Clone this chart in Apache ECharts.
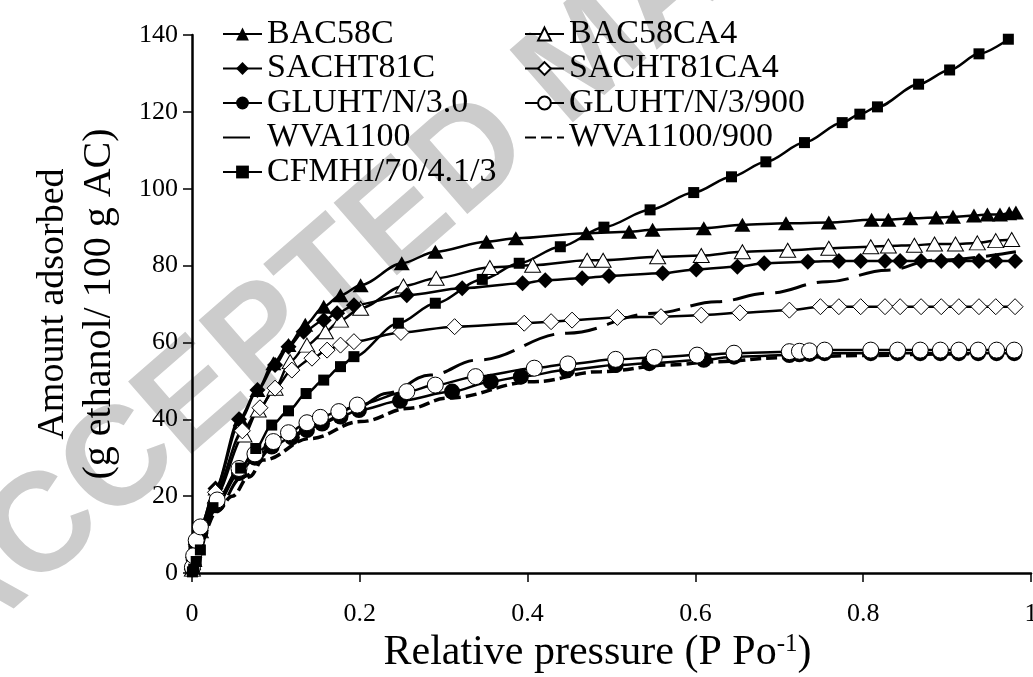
<!DOCTYPE html>
<html>
<head>
<meta charset="utf-8">
<script src="https://cdn.jsdelivr.net/npm/echarts@6/dist/echarts.min.js"></script>
<style>
  html, body { margin: 0; padding: 0; background: #fff; overflow: hidden; }
  #chart { width: 1033px; height: 677px; }
</style>
</head>
<body>
<div id="chart"></div>
<script>
// ethanol isotherms, [relative pressure, amount adsorbed]
var bac58c = [[0.0005,1],[0.002,4],[0.005,8],[0.01,12],[0.028,22],[0.058,40],[0.078,47.6],[0.097,54.6],[0.115,59.3],[0.135,64.6],[0.157,69.3],[0.177,72.3],[0.201,74.9],[0.25,80.6],[0.29,83.6],[0.351,86.2],[0.386,87.1],[0.47,88.4],[0.521,88.8],[0.549,89.3],[0.61,89.7],[0.656,90.6],[0.708,91.0],[0.759,91.2],[0.81,91.9],[0.83,91.9],[0.856,92.3],[0.887,92.5],[0.907,92.7],[0.932,93.0],[0.948,93.3],[0.963,93.3],[0.974,93.6],[0.982,93.8]];
var bac58ca4 = [[0.0005,1],[0.002,3.5],[0.005,7],[0.01,11],[0.028,20],[0.062,35.9],[0.079,42.4],[0.099,48.1],[0.117,55.0],[0.137,59.3],[0.159,62.8],[0.177,65.8],[0.201,68.9],[0.252,74.7],[0.291,76.7],[0.355,79.5],[0.406,80.1],[0.471,81.4],[0.49,81.4],[0.555,82.3],[0.607,82.6],[0.656,83.6],[0.71,84.0],[0.759,84.5],[0.809,84.9],[0.83,85.1],[0.861,85.3],[0.885,85.6],[0.91,85.6],[0.936,85.9],[0.958,86.5],[0.977,86.8]];
var sacht81c = [[0.0005,1],[0.002,4],[0.005,8],[0.01,12],[0.028,22],[0.056,40],[0.078,47.6],[0.099,54.1],[0.115,58.9],[0.133,62.8],[0.157,65.8],[0.173,67.6],[0.193,69.7],[0.256,72.3],[0.322,74.1],[0.394,75.4],[0.421,76.2],[0.465,76.7],[0.497,77.3],[0.561,78.0],[0.601,79.0],[0.65,79.7],[0.682,80.6],[0.734,81.0],[0.771,81.2],[0.797,81.2],[0.826,81.2],[0.844,81.2],[0.869,81.2],[0.893,81.2],[0.914,81.2],[0.938,81.2],[0.958,81.2],[0.981,81.2]];
var sacht81ca4 = [[0.0005,1],[0.002,4],[0.005,7.5],[0.01,11],[0.028,21],[0.06,37],[0.081,43],[0.099,48.1],[0.119,52.8],[0.143,55.9],[0.161,58.0],[0.177,59.3],[0.193,60.2],[0.249,62.6],[0.313,64.1],[0.396,65.0],[0.428,65.4],[0.453,65.8],[0.507,66.5],[0.559,66.7],[0.607,67.1],[0.653,67.7],[0.712,68.4],[0.749,69.3],[0.771,69.3],[0.797,69.3],[0.826,69.3],[0.844,69.3],[0.869,69.3],[0.893,69.3],[0.914,69.3],[0.938,69.3],[0.958,69.3],[0.981,69.3]];
var gluht = [[0.0005,1],[0.002,3.5],[0.005,7],[0.01,10.5],[0.03,18],[0.056,26],[0.075,30],[0.095,32.9],[0.119,35.3],[0.137,37.2],[0.155,38.9],[0.177,40.7],[0.199,42.4],[0.248,44.8],[0.31,47.2],[0.356,49.8],[0.392,51.1],[0.447,52.8],[0.505,54.1],[0.545,54.6],[0.61,55.5],[0.646,56.3],[0.712,56.7],[0.724,56.9],[0.736,57.0],[0.754,57.2],[0.809,57.2],[0.841,57.2],[0.868,57.2],[0.892,57.2],[0.914,57.2],[0.937,57.2],[0.959,57.2],[0.98,57.2]];
var gluht900 = [[0.0005,1.5],[0.002,4.5],[0.005,8.5],[0.01,12],[0.03,19],[0.056,27.2],[0.075,31],[0.097,34.2],[0.115,36.5],[0.137,39.1],[0.153,40.5],[0.175,42.0],[0.197,43.7],[0.256,47.2],[0.29,48.9],[0.338,51.1],[0.408,53.3],[0.448,54.4],[0.505,55.6],[0.551,56.1],[0.602,56.7],[0.646,57.2],[0.712,57.6],[0.724,57.7],[0.736,57.8],[0.754,58],[0.809,58],[0.841,58],[0.868,58],[0.892,58],[0.914,58],[0.937,58],[0.959,58],[0.98,58]];
var wva1100 = [[0.0005,1],[0.005,7],[0.01,10],[0.03,17],[0.06,25],[0.1,33],[0.15,39],[0.2,43.5],[0.232,46.8],[0.284,51.5],[0.34,55.4],[0.447,62.4],[0.551,67.6],[0.626,70.6],[0.686,72.8],[0.757,75.8],[0.829,78.8],[0.885,81.4],[0.982,83.6]];
var wva1100900 = [[0.0005,1],[0.005,6],[0.01,9],[0.03,16],[0.048,20],[0.068,25],[0.085,29.4],[0.141,35.0],[0.201,39.4],[0.26,42.9],[0.304,45.5],[0.408,49.8],[0.487,52.4],[0.567,54.1],[0.626,55.0],[0.7,56],[0.8,56.6],[0.9,57],[0.98,57.2]];
var cfmhi = [[0.0005,0.3],[0.002,1],[0.005,3],[0.01,6],[0.025,17],[0.058,27.3],[0.076,32.4],[0.095,38.5],[0.115,42.2],[0.136,46.7],[0.157,50.2],[0.177,53.7],[0.193,56.3],[0.246,65.0],[0.29,70.2],[0.346,76.4],[0.39,80.6],[0.439,84.9],[0.491,90.0],[0.546,94.5],[0.598,99.0],[0.643,103.1],[0.684,107.0],[0.73,112.0],[0.775,117.2],[0.796,119.4],[0.817,121.3],[0.866,127.2],[0.903,130.9],[0.938,135.1],[0.973,138.9]];

var FONT = 'Liberation Serif';
var chart = echarts.init(document.getElementById('chart'));

function marked(name, data, symbol, size, hollow) {
    return {
        name: name,
        type: 'line',
        data: data,
        symbol: symbol,
        symbolSize: size,
        showAllSymbol: true,
        smooth: 0.3,
        smoothMonotone: 'x',
        lineStyle: { color: '#000', width: 2.5 },
        itemStyle: hollow
            ? { color: '#fff', borderColor: '#000', borderWidth: 1 }
            : { color: '#000', borderWidth: 0 }
    };
}
function dashed(name, data, dash, w) {
    return {
        name: name,
        type: 'line',
        data: data,
        symbol: 'none',
        smooth: 0.4,
        smoothMonotone: 'x',
        lineStyle: { color: '#000', width: w, type: dash },
        itemStyle: { color: '#000' }
    };
}

var legendText = { fontFamily: FONT, fontSize: 34, color: '#000', lineHeight: 34 };

chart.setOption({
    animation: false,
    backgroundColor: '#fff',
    graphic: [{
        type: 'text',
        x: -70, y: 630,
        rotation: 41 * Math.PI / 180,
        z: -10,
        silent: true,
        style: {
            text: 'ACCEPTED MANUSCRIPT',
            fontFamily: 'Liberation Sans',
            fontWeight: 'bold',
            fontSize: 140,
            fill: '#cccccc',
            align: 'left',
            verticalAlign: 'middle'
        }
    }],
    grid: { left: 192, right: 2, top: 35, bottom: 104, containLabel: false, outerBoundsMode: 'none' },
    legend: [{
        orient: 'vertical', left: 217, top: 12, itemGap: 0.5,
        itemWidth: 39, itemHeight: 16,
        textStyle: legendText,
        data: ['BAC58C', 'SACHT81C', 'GLUHT/N/3.0',
            { name: 'WVA1100', itemStyle: { opacity: 0 }, lineStyle: { type: [27, 14] } },
            'CFMHI/70/4.1/3']
    }, {
        orient: 'vertical', left: 519, top: 12, itemGap: 0.5,
        itemWidth: 39, itemHeight: 16,
        textStyle: legendText,
        data: ['BAC58CA4', 'SACHT81CA4', 'GLUHT/N/3/900',
            { name: 'WVA1100/900', itemStyle: { opacity: 0 } }]
    }],
    xAxis: {
        type: 'value', min: 0, max: 1, interval: 0.2,
        name: 'Relative pressure (P Po{sup|-1})',
        nameLocation: 'middle', nameGap: 49,
        nameTextStyle: {
            fontFamily: FONT, fontSize: 42, color: '#000', padding: [0, 28, 0, 0],
            rich: { sup: { fontFamily: FONT, fontSize: 25, color: '#000', verticalAlign: 'top', padding: [0, 0, 18, 0] } }
        },
        axisLine: { lineStyle: { color: '#000', width: 2.5 } },
        axisTick: { show: true, length: 9, lineStyle: { color: '#000', width: 1.5 } },
        axisLabel: { fontFamily: FONT, fontSize: 26, color: '#000', margin: 28 },
        splitLine: { show: false }
    },
    yAxis: {
        type: 'value', min: 0, max: 140, interval: 20,
        name: '{a|Amount adsorbed}\n{b|(g ethanol/ 100 g AC)}',
        nameLocation: 'middle', nameGap: 70,
        nameTextStyle: {
            fontFamily: FONT, fontSize: 40, color: '#000', lineHeight: 46,
            rich: {
                a: { fontFamily: FONT, fontSize: 38, color: '#000', lineHeight: 46 },
                b: { fontFamily: FONT, fontSize: 40, color: '#000', lineHeight: 46 }
            }
        },
        axisLine: { show: true, lineStyle: { color: '#000', width: 2.5 } },
        axisTick: { show: true, length: 9, lineStyle: { color: '#000', width: 1.5 } },
        axisLabel: { fontFamily: FONT, fontSize: 26, color: '#000', margin: 14 },
        splitLine: { show: false }
    },
    series: [
        marked('BAC58C', bac58c, 'triangle', [16, 14], false),
        marked('BAC58CA4', bac58ca4, 'triangle', [16, 14], true),
        marked('SACHT81C', sacht81c, 'diamond', 16, false),
        marked('SACHT81CA4', sacht81ca4, 'diamond', 16, true),
        marked('GLUHT/N/3.0', gluht, 'circle', 16, false),
        marked('GLUHT/N/3/900', gluht900, 'circle', 16, true),
        dashed('WVA1100', wva1100, [32, 11], 3),
        dashed('WVA1100/900', wva1100900, [11, 5], 3.5),
        marked('CFMHI/70/4.1/3', cfmhi, 'rect', 11, false)
    ]
});
</script>
</body>
</html>
